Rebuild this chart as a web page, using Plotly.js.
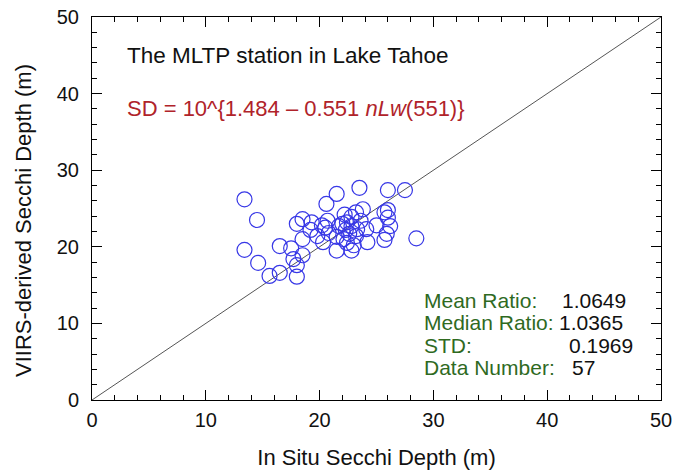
<!DOCTYPE html>
<html>
<head>
<meta charset="utf-8">
<script src="https://cdn.plot.ly/plotly-3.0.1.min.js"></script>
<style>
  html, body { margin: 0; padding: 0; background: #ffffff; }
  #chart { width: 675px; height: 470px; }
</style>
</head>
<body>
<div id="chart"></div>
<script>
// In situ vs. VIIRS-derived Secchi depth (m) at the MLTP station, Lake Tahoe
const inSitu = [
  13.4, 14.5, 13.4, 14.6, 15.6, 16.5, 16.5, 17.5, 17.7, 18.0,
  18.0, 18.0, 18.5, 18.5, 18.5, 19.2, 19.3, 20.3, 20.6, 20.5,
  20.7, 20.8, 21.5, 21.5, 21.5, 22.2, 22.4, 22.3, 22.4, 22.8,
  22.8, 22.8, 23.2, 23.2, 23.5, 23.6, 23.8, 24.1, 24.2, 25.0,
  25.7, 25.9, 26.0, 26.0, 26.0, 26.2, 27.5, 28.5, 22.1, 22.6,
  23.0, 21.7, 22.0, 19.8, 25.7, 23.3, 20.2
];
const viirs = [
  26.2, 23.5, 19.6, 17.9, 16.2, 16.6, 20.1, 19.8, 18.4, 17.6,
  16.1, 23.0, 23.6, 21.0, 18.9, 22.2, 23.2, 20.6, 25.6, 22.5,
  23.4, 21.8, 26.9, 21.3, 19.5, 24.2, 23.2, 22.2, 20.5, 23.9,
  22.7, 19.5, 21.4, 24.5, 27.7, 23.4, 24.9, 22.3, 20.6, 22.8,
  20.9, 21.7, 27.4, 24.8, 23.8, 22.7, 27.4, 21.1, 21.0, 21.7,
  20.2, 22.7, 23.0, 21.4, 24.5, 22.3, 22.8
];
// 1:1 reference line
const oneToOne = [0, 50];

const statLabels = ['Mean Ratio:', 'Median Ratio:', 'STD:', 'Data Number:'];
const statValues = ['1.0649', '1.0365', '0.1969', '57'];

const FONT = 'Liberation Sans, Arial, Helvetica, sans-serif';
const GREEN = '#2f6a1f';

const traces = [
  {
    x: oneToOne, y: oneToOne, mode: 'lines', type: 'scatter',
    line: { color: '#555555', width: 1 }, hoverinfo: 'skip', showlegend: false
  },
  {
    x: inSitu, y: viirs, mode: 'markers', type: 'scatter',
    marker: { symbol: 'circle-open', size: 15, color: 'rgb(55,55,230)', line: { width: 1.2, color: 'rgb(55,55,230)' } },
    showlegend: false
  }
];

// plot-area pixel helpers for annotation placement
const L = 92, R = 661, T = 17, B = 400;
const px = v => (v - L) / (R - L);
const py = v => (B - v) / (B - T);

const statRowsY = [300, 322.5, 345, 367.5];
const statValueX = [560, 557, 567, 570];

const annotations = [
  { text: 'The MLTP station in Lake Tahoe', x: px(125), y: py(56), color: '#111111', size: 22.5 },
  { text: 'SD = 10^{1.484 \u2013 0.551 <i>nLw</i>(551)}', x: px(125), y: py(109), color: '#b0232a', size: 22 }
].map(a => ({
  text: a.text, xref: 'paper', yref: 'paper', x: a.x, y: a.y,
  xanchor: 'left', yanchor: 'middle', showarrow: false,
  font: { family: FONT, size: a.size, color: a.color }
}));

statLabels.forEach((lab, i) => {
  annotations.push({
    text: lab, xref: 'paper', yref: 'paper', x: px(422), y: py(statRowsY[i]),
    xanchor: 'left', yanchor: 'middle', showarrow: false,
    font: { family: FONT, size: 21, color: GREEN }
  });
  annotations.push({
    text: statValues[i], xref: 'paper', yref: 'paper', x: px(statValueX[i]), y: py(statRowsY[i]),
    xanchor: 'left', yanchor: 'middle', showarrow: false,
    font: { family: FONT, size: 21, color: '#111111' }
  });
});

// vertical axis title, placed a little below the plot-area centre
annotations.push({
  text: 'VIIRS-derived Secchi Depth (m)', xref: 'paper', yref: 'paper',
  x: px(23), y: py(221), xanchor: 'center', yanchor: 'middle', textangle: -90,
  showarrow: false, font: { family: FONT, size: 22, color: '#111' }
});

const axisCommon = {
  range: [0, 50], dtick: 10, tick0: 0,
  ticks: 'inside', ticklen: 10, tickwidth: 1, tickcolor: '#000',
  minor: { dtick: 2, ticks: 'inside', ticklen: 5, tickwidth: 1, tickcolor: '#000', showgrid: false },
  mirror: 'allticks', showline: true, linecolor: '#000', linewidth: 1,
  showgrid: false, zeroline: false,
  tickfont: { family: FONT, size: 20, color: '#111' }
};

const layout = {
  width: 675, height: 470,
  margin: { l: L, r: 675 - R, t: T, b: 470 - B },
  paper_bgcolor: '#ffffff', plot_bgcolor: '#ffffff',
  font: { family: FONT, color: '#111' },
  xaxis: Object.assign({}, axisCommon, {
    ticklabelstandoff: 2,
    title: { text: 'In Situ Secchi Depth (m)', font: { family: FONT, size: 22, color: '#111' }, standoff: 20 }
  }),
  yaxis: Object.assign({}, axisCommon, {
    ticklabelstandoff: 8
  }),
  annotations: annotations
};

Plotly.newPlot('chart', traces, layout, { staticPlot: true, displayModeBar: false });
</script>
</body>
</html>
